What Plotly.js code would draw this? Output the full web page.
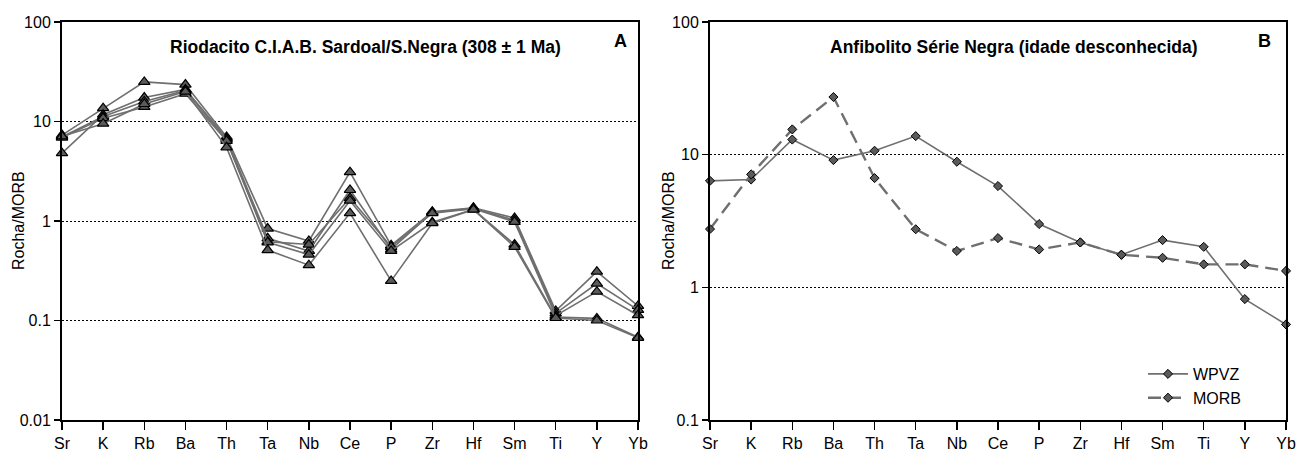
<!DOCTYPE html>
<html>
<head>
<meta charset="utf-8">
<script src="https://cdn.plot.ly/plotly-3.0.1.min.js"></script>
<style>html,body{margin:0;padding:0;background:#fff;}#chart{width:1312px;height:457px;}</style>
</head>
<body>
<div id="chart"></div>
<script>
// Elements (x categories)
const elements = ['Sr','K','Rb','Ba','Th','Ta','Nb','Ce','P','Zr','Hf','Sm','Ti','Y','Yb'];

// Panel A: Riodacito samples (rock/MORB)
const sampleA1 = [7.3, 13.6, 25.0, 23.5, 7.0, 0.84, 0.63, 3.1, 0.57, 1.24, 1.36, 1.07, 0.125, 0.31, 0.14];
const sampleA2 = [4.8, 11.7, 17.4, 21.0, 6.8, 0.67, 0.50, 2.05, 0.52, 1.22, 1.34, 1.02, 0.118, 0.235, 0.128];
const sampleA3 = [7.0, 11.2, 15.9, 20.5, 6.6, 0.62, 0.58, 1.7, 0.55, 1.20, 1.33, 0.98, 0.112, 0.195, 0.113];
const sampleA4 = [6.9, 10.8, 14.0, 19.0, 6.4, 0.61, 0.46, 1.6, 0.50, 0.97, 1.31, 0.58, 0.108, 0.105, 0.068];
const sampleA5 = [7.1, 9.5, 15.0, 20.0, 5.5, 0.51, 0.36, 1.2, 0.25, 0.95, 1.30, 0.55, 0.106, 0.100, 0.067];

// Panel B: Anfibolito
const wpvz = [6.35, 6.5, 13.0, 9.1, 10.7, 13.8, 8.85, 5.8, 3.0, 2.18, 1.76, 2.27, 2.02, 0.815, 0.525];
const morb = [2.75, 7.1, 15.5, 27.2, 6.66, 2.74, 1.88, 2.35, 1.93, 2.18, 1.76, 1.67, 1.49, 1.49, 1.33];

const ticksA = [0.01, 0.1, 1, 10, 100];
const ticksATxt = ['0.01', '0.1', '1', '10', '100'];
const ticksB = [0.1, 1, 10, 100];
const ticksBTxt = ['0.1', '1', '10', '100'];

const FONT = 'Arial, "Liberation Sans", sans-serif';
const lineCol = '#6f6f6f';
const markFill = '#5a5a5a';

const samplesA = [sampleA1, sampleA2, sampleA3, sampleA4, sampleA5];
const traces = samplesA.map((s, i) => ({
  x: elements, y: s, xaxis: 'x', yaxis: 'y', type: 'scatter', mode: 'lines+markers',
  showlegend: false, cliponaxis: false,
  line: {color: lineCol, width: 1.6},
  marker: {symbol: 'triangle-up', size: 10, color: markFill, line: {color: '#000', width: 1.2}}
}));

traces.push({
  x: elements, y: wpvz, xaxis: 'x2', yaxis: 'y2', type: 'scatter', mode: 'lines+markers',
  name: 'WPVZ', cliponaxis: false,
  line: {color: lineCol, width: 1.6},
  marker: {symbol: 'diamond', size: 7, color: markFill, line: {color: '#000', width: 1}}
});
traces.push({
  x: elements, y: morb, xaxis: 'x2', yaxis: 'y2', type: 'scatter', mode: 'lines+markers',
  name: 'MORB', cliponaxis: false,
  line: {color: lineCol, width: 2.4, dash: '13px,7px'},
  marker: {symbol: 'diamond', size: 7, color: markFill, line: {color: '#000', width: 1}}
});

const W = 1312, H = 457;
const xA = [62 / W, 638 / W];
const xB = [710 / W, 1286 / W];
const yD = [1 - 420 / H, 1 - 22 / H];

const xaxisBase = {
  type: 'category', range: [0, 14], showline: true, linecolor: '#000', linewidth: 2, mirror: true,
  ticks: 'outside', ticklen: 8, tickwidth: 1.5, tickcolor: '#000', showgrid: false, zeroline: false,
  tickfont: {family: FONT, size: 16, color: '#000'}
};
const yaxisBase = {
  type: 'log', showline: true, linecolor: '#000', linewidth: 2, mirror: true,
  ticks: 'outside', ticklen: 6, tickwidth: 1.5, tickcolor: '#000',
  showgrid: true, gridcolor: '#000', gridwidth: 1, griddash: '2px,2px', zeroline: false,
  tickfont: {family: FONT, size: 16, color: '#000'}
};

const layout = {
  width: W, height: H,
  margin: {l: 0, r: 0, t: 0, b: 0},
  paper_bgcolor: '#fff', plot_bgcolor: '#fff',
  font: {family: FONT, color: '#000'},
  xaxis: Object.assign({}, xaxisBase, {domain: xA, anchor: 'y'}),
  yaxis: Object.assign({}, yaxisBase, {domain: yD, anchor: 'x', range: [-2, 2], tickvals: ticksA, ticktext: ticksATxt}),
  xaxis2: Object.assign({}, xaxisBase, {domain: xB, anchor: 'y2'}),
  yaxis2: Object.assign({}, yaxisBase, {domain: yD, anchor: 'x2', range: [-1, 2], tickvals: ticksB, ticktext: ticksBTxt}),
  showlegend: true,
  legend: {
    x: 1143 / W, y: 1 - 357 / H, xanchor: 'left', yanchor: 'top',
    bgcolor: 'rgba(0,0,0,0)', font: {family: FONT, size: 16, color: '#000'},
    tracegroupgap: 0, itemwidth: 40
  },
  annotations: [
    {xref: 'paper', yref: 'paper', x: 365 / W, y: 1 - 47 / H, text: '<b>Riodacito C.I.A.B. Sardoal/S.Negra (308 ± 1 Ma)</b>',
     showarrow: false, xanchor: 'center', yanchor: 'middle', font: {family: FONT, size: 17.5, color: '#000'}},
    {xref: 'paper', yref: 'paper', x: 620 / W, y: 1 - 41 / H, text: '<b>A</b>',
     showarrow: false, xanchor: 'center', yanchor: 'middle', font: {family: FONT, size: 18, color: '#000'}},
    {xref: 'paper', yref: 'paper', x: 1014 / W, y: 1 - 47 / H, text: '<b>Anfibolito Série Negra (idade desconhecida)</b>',
     showarrow: false, xanchor: 'center', yanchor: 'middle', font: {family: FONT, size: 17.5, color: '#000'}},
    {xref: 'paper', yref: 'paper', x: 1264 / W, y: 1 - 41 / H, text: '<b>B</b>',
     showarrow: false, xanchor: 'center', yanchor: 'middle', font: {family: FONT, size: 18, color: '#000'}},
    {xref: 'paper', yref: 'paper', x: 18 / W, y: 1 - 221 / H, text: 'Rocha/MORB', textangle: -90,
     showarrow: false, xanchor: 'center', yanchor: 'middle', font: {family: FONT, size: 16, color: '#000'}},
    {xref: 'paper', yref: 'paper', x: 668 / W, y: 1 - 221 / H, text: 'Rocha/MORB', textangle: -90,
     showarrow: false, xanchor: 'center', yanchor: 'middle', font: {family: FONT, size: 16, color: '#000'}}
  ]
};

Plotly.newPlot('chart', traces, layout, {displayModeBar: false, staticPlot: true});
</script>
</body>
</html>
